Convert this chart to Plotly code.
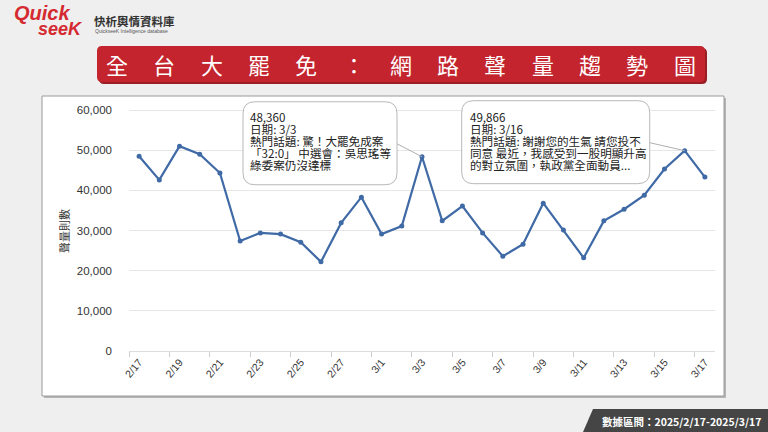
import plotly.graph_objects as go

# ---------------- data ----------------
dates = ['2/17', '2/18', '2/19', '2/20', '2/21', '2/22', '2/23', '2/24', '2/25', '2/26',
         '2/27', '2/28', '3/1', '3/2', '3/3', '3/4', '3/5', '3/6', '3/7', '3/8', '3/9',
         '3/10', '3/11', '3/12', '3/13', '3/14', '3/15', '3/16', '3/17']
volumes = [48500, 42600, 51000, 49000, 44300, 27400, 29400, 29100, 27100, 22200,
           31900, 38300, 29100, 31100, 48360, 32400, 36100, 29400, 23600, 26600, 36800,
           30100, 23200, 32400, 35300, 38800, 45300, 49866, 43300]
y_ticks = [0, 10000, 20000, 30000, 40000, 50000, 60000]

callout_dates = ['3/3', '3/16']
callout_topics = [
    ['熱門話題: 驚！大罷免成案', '「32:0」 中選會：吳思瑤等', '綠委案仍沒達標'],
    ['熱門話題: 謝謝您的生氣 請您投不', '同意 最近，我感受到一股明顯升高', '的對立氛圍，執政黨全面動員...'],
]
title_text = '全台大罷免：網路聲量趨勢圖'
y_title = '聲量則數'
footer_text = '數據區間：2025/2/17-2025/3/17'
brand_cn = '快析輿情資料庫'
brand_en = 'QuickseeK Intelligence database'

# ---------------- layout geometry ----------------
W, H = 768, 432
L, R, B, T = 129, 53, 81, 96
PW = W - L - R
PH = H - T - B
BOTTOM = H - B
YMAX = 60000 * PH / 241.0

CJK = 'Noto Sans CJK TC'
LAT = 'Liberation Sans, Arial, sans-serif'
LINE_COLOR = '#3f6aa6'
BG = '#efefef'


def px(x):
    return (x - L) / PW


def py(y):
    return (BOTTOM - y) / PH


def rr_path(x0, y0, x1, y1, r):
    # x0<x1, y0 bottom < y1 top (pixel offsets, y up)
    return (f"M{x0 + r},{y1} L{x1 - r},{y1} Q{x1},{y1} {x1},{y1 - r} "
            f"L{x1},{y0 + r} Q{x1},{y0} {x1 - r},{y0} L{x0 + r},{y0} "
            f"Q{x0},{y0} {x0},{y0 + r} L{x0},{y1 - r} Q{x0},{y1} {x0 + r},{y1} Z")


def page_rr(x0, y0, x1, y1, r, **kw):
    # page pixel rect (y down) -> paper-anchored pixel path
    return dict(type='path', xref='paper', yref='paper', xsizemode='pixel', ysizemode='pixel',
                xanchor=0, yanchor=0,
                path=rr_path(x0 - L, BOTTOM - y1, x1 - L, BOTTOM - y0, r), **kw)


fig = go.Figure()
fig.add_trace(go.Scatter(
    x=dates, y=volumes, mode='lines+markers',
    line=dict(color=LINE_COLOR, width=2.2),
    marker=dict(color=LINE_COLOR, size=5),
    hoverinfo='skip', showlegend=False))

shapes = []
annotations = []

# chart panel with shadow
shapes.append(page_rr(44, 98, 726, 398, 0, fillcolor='#b5b5b5', line=dict(width=0), layer='below'))
shapes.append(page_rr(42, 96, 724, 396, 0, fillcolor='white', line=dict(color='#9a9a9a', width=1), layer='below'))

# title bar
shapes.append(page_rr(99, 48, 707, 84, 5, fillcolor='#9a1f25', line=dict(width=0), layer='below'))
shapes.append(page_rr(97, 46, 705, 82, 5, fillcolor='#c3242d', line=dict(width=0), layer='below'))
for i, ch in enumerate(title_text):
    annotations.append(dict(text=ch, xref='paper', yref='paper', x=px(117 + i * 47.3), y=py(64),
                            showarrow=False, xanchor='center', yanchor='middle',
                            font=dict(family=CJK, size=22, color='white')))

# footer
shapes.append(dict(type='path', xref='paper', yref='paper', xsizemode='pixel', ysizemode='pixel',
                   xanchor=0, yanchor=0,
                   path=f"M{593 - L},{BOTTOM - 409} L{W - L},{BOTTOM - 409} L{W - L},{BOTTOM - H} L{583 - L},{BOTTOM - H} Z",
                   fillcolor='#454545', line=dict(width=0), layer='below'))
annotations.append(dict(text='<b>' + footer_text + '</b>', xref='paper', yref='paper',
                        x=px(681), y=py(421), showarrow=False, xanchor='center', yanchor='middle',
                        font=dict(family=CJK, size=10.5, color='white')))

# logo
annotations.append(dict(text='<b><i>Quick</i></b>', xref='paper', yref='paper', x=px(42), y=py(13),
                        showarrow=False, xanchor='center', yanchor='middle',
                        font=dict(family=LAT, size=20, color='#d42a30')))
annotations.append(dict(text='<b><i>seeK</i></b>', xref='paper', yref='paper', x=px(60), y=py(29),
                        showarrow=False, xanchor='center', yanchor='middle',
                        font=dict(family=LAT, size=18, color='#d42a30')))
annotations.append(dict(text='<b>' + brand_cn + '</b>', xref='paper', yref='paper', x=px(92), y=py(21),
                        showarrow=False, xanchor='left', yanchor='middle',
                        font=dict(family=CJK, size=11.5, color='#333333')))
annotations.append(dict(text=brand_en, xref='paper', yref='paper', x=px(93), y=py(31),
                        showarrow=False, xanchor='left', yanchor='middle',
                        font=dict(family=LAT, size=5, color='#555555')))

# y axis title
annotations.append(dict(text=y_title, xref='paper', yref='paper', x=px(64), y=py(231),
                        showarrow=False, xanchor='center', yanchor='middle', textangle=-90,
                        font=dict(family=CJK, size=11, color='#333333')))

# callouts
box_geo = [(-179, -25, -28, 55, -25, 13, -173, [40, 28, 16, 4, -8.5]),
           (-223, -35, -33, 50, -35, 8, -216, [34, 22, 10, -2, -14.5])]
for d, topic, g in zip(callout_dates, callout_topics, box_geo):
    idx = dates.index(d)
    val = volumes[idx]
    bx0, bx1, by0, by1, lx, ly, tx, tys = g
    shapes.append(dict(type='line', xref='x', yref='y', xsizemode='pixel', ysizemode='pixel',
                       xanchor=idx, yanchor=val, x0=lx, y0=ly, x1=0, y1=0,
                       line=dict(color='#b0b0b0', width=1), layer='above'))
    shapes.append(dict(type='path', xref='x', yref='y', xsizemode='pixel', ysizemode='pixel',
                       xanchor=idx, yanchor=val, path=rr_path(bx0, by0, bx1, by1, 12),
                       fillcolor='white', line=dict(color='#b8b8b8', width=1), layer='above'))
    lines = [f'{val:,}', f'日期: {d}'] + topic
    for ln, ty in zip(lines, tys):
        annotations.append(dict(text=ln, xref='x', yref='y', x=idx, y=val, xshift=tx, yshift=ty,
                                showarrow=False, xanchor='left', yanchor='middle', borderpad=0,
                                font=dict(family=CJK, size=11.6, color='#222222')))

fig.update_layout(
    width=W, height=H,
    margin=dict(l=L, r=R, t=T, b=B, pad=0),
    paper_bgcolor=BG, plot_bgcolor='rgba(0,0,0,0)',
    font=dict(family=LAT, color='#333333'),
    shapes=shapes, annotations=annotations,
    xaxis=dict(type='category', range=[-0.5, len(dates) - 0.5], tickmode='linear', tick0=0, dtick=2,
               tickson='boundaries', ticks='outside', ticklen=5, tickcolor='#cccccc',
               showgrid=False, showline=True, linecolor='#dddddd', linewidth=1, automargin=False,
               tickangle=-50, tickfont=dict(family=LAT, size=10.5, color='#333333'), fixedrange=True),
    yaxis=dict(range=[0, YMAX], tickmode='array', tickvals=y_ticks,
               ticktext=[f'{v:,}' for v in y_ticks], automargin=False,
               showgrid=True, gridcolor='#e6e6e6', gridwidth=1, zeroline=False, showline=False,
               ticklabelstandoff=16, tickfont=dict(family=LAT, size=11.5, color='#333333'),
               fixedrange=True),
)

fig.write_html('out.html', config={'displayModeBar': False},
               post_script="document.body.style.margin='0px';document.body.style.background='" + BG + "';")
